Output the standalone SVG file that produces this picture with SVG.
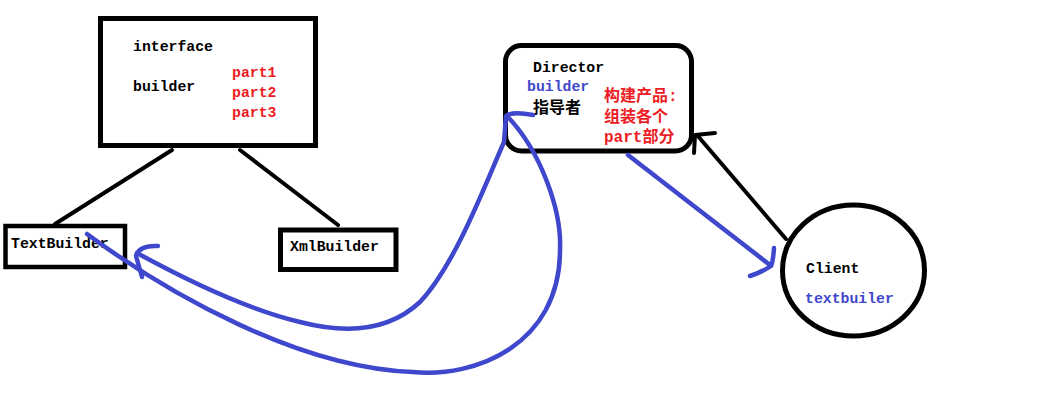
<svg xmlns="http://www.w3.org/2000/svg" width="1058" height="402" viewBox="0 0 1058 402">
<style>
.box{fill:none;stroke:#000;stroke-width:5}
.t{font-family:"Liberation Mono","Noto Sans CJK SC",monospace;font-size:14.8px;font-weight:bold;fill:#000}
.red{fill:#ed1c24;font-size:16px}
.blue{fill:#3f48cc}
.cjk{font-family:"Noto Sans CJK SC",sans-serif;font-size:16px;font-weight:bold}
.bl{fill:none;stroke:#000;stroke-width:4;stroke-linecap:round;stroke-linejoin:round}
.bu{fill:none;stroke:#3f48cc;stroke-width:4.5;stroke-linecap:round;stroke-linejoin:round}
</style>
<rect width="1058" height="402" fill="#fff"/>
<g id="interface-builder">
<rect class="box" x="100.5" y="18.5" width="215" height="127"/>
<text class="t" x="133" y="51">interface</text>
<text class="t" x="133" y="91">builder</text>
<text class="t red" x="232" y="77" style="font-size:14.8px">part1</text>
<text class="t red" x="232" y="97" style="font-size:14.8px">part2</text>
<text class="t red" x="232" y="117" style="font-size:14.8px">part3</text>
</g>
<g id="textbuilder">
<rect class="box" x="5.5" y="226" width="119.5" height="41" style="stroke-width:4.5"/>
<text class="t" x="11" y="248">TextBuilder</text>
</g>
<g id="xmlbuilder">
<rect class="box" x="280.5" y="230" width="115.5" height="39.5"/>
<text class="t" x="290" y="251">XmlBuilder</text>
</g>
<g id="director">
<rect class="box" x="505.5" y="45.5" width="186" height="105.5" rx="16"/>
<text class="t" x="533" y="72">Director</text>
<text class="t blue" x="527" y="91">builder</text>
<text class="cjk" x="533" y="113">指导者</text>
<text class="t red" x="604" y="101">构建产品:</text>
<text class="t red" x="604" y="122">组装各个</text>
<text class="t red" x="604" y="142">part部分</text>
</g>
<g id="client">
<ellipse class="box" cx="853.5" cy="270.5" rx="71" ry="65.5"/>
<text class="t" x="806" y="273">Client</text>
<text class="t blue" x="805" y="303">textbuiler</text>
</g>
<g id="connectors">
<line class="bl" x1="172" y1="150" x2="55" y2="224"/>
<line class="bl" x1="240" y1="150" x2="338" y2="225"/>
<line class="bl" x1="786" y1="239" x2="697" y2="135"/>
<polyline class="bl" points="715,133 695,135 694,153"/>
<line class="bu" x1="628" y1="155" x2="770" y2="265"/>
<path class="bu" d="M774,248 Q773,262 771,266 Q762,272 750,276"/>
<path class="bu" d="M533,115 C522,113 511,112 506,116 L504,142 C485,185 455,265 420,302 C390,330 350,335 300,322 C250,310 190,282 137,253"/>
<path class="bu" d="M158,246 Q139,245 136,256 L142,277"/>
<path class="bu" d="M87,234 C170,295 300,368 413,372 C475,378 560,345 560,250 C562,210 540,150 507,116"/>
</g>
</svg>
